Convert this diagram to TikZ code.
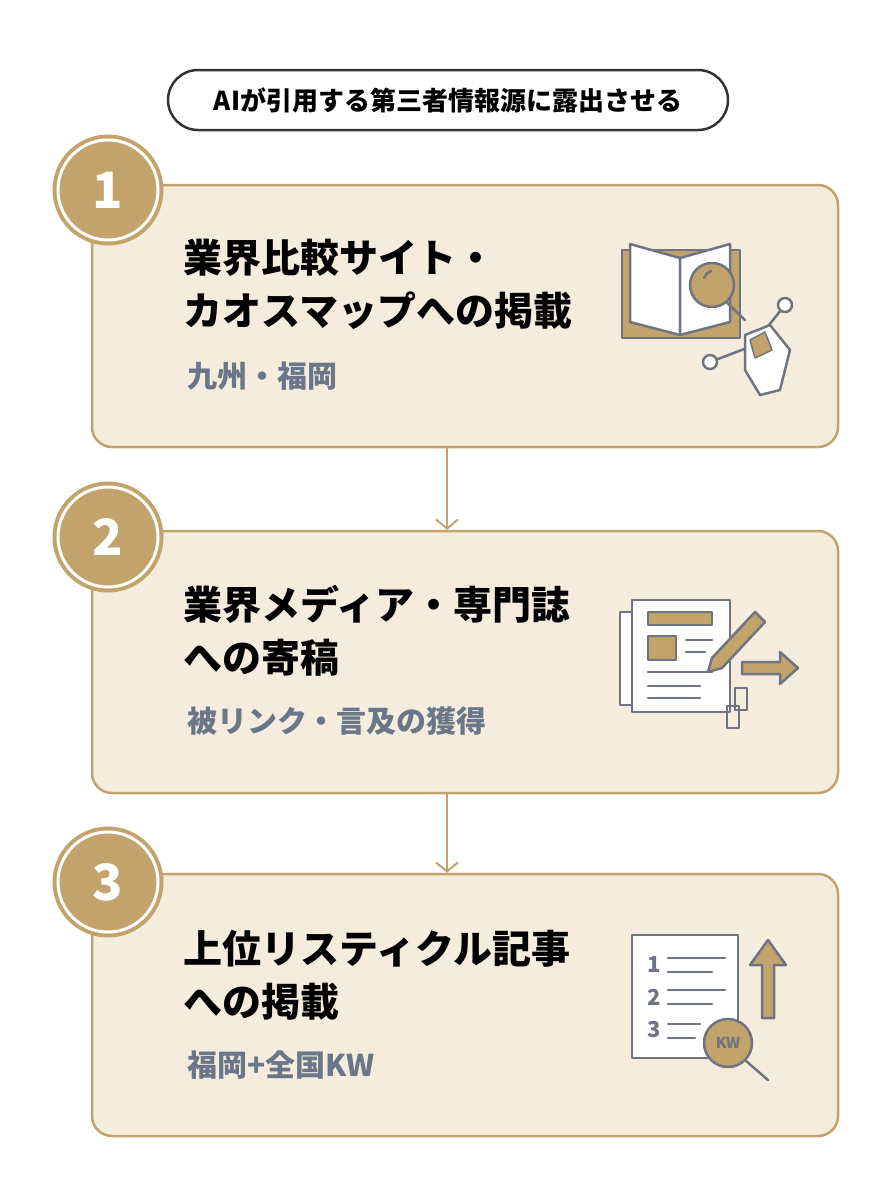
\documentclass[tikz,border=0pt]{standalone}
\usepackage{fontspec}
\setmainfont{Noto Sans CJK JP}
\usetikzlibrary{positioning,arrows.meta}
\definecolor{gold}{HTML}{C2A36C}
\definecolor{beige}{HTML}{F4EDDD}
\definecolor{ink}{HTML}{6E7480}
\definecolor{subc}{HTML}{6B7688}
\tikzset{
  stage/.style={draw=gold, line width=2.5pt, fill=beige, rounded corners=20pt, minimum width=746pt, minimum height=262pt},
  num/.style={circle, draw=gold, line width=4pt, fill=gold, minimum size=100pt, double=white, double distance=3pt, text=white, font=\fontsize{50}{50}\selectfont\bfseries},
  head/.style={anchor=north west, align=left, font=\fontsize{39}{53}\selectfont\bfseries},
  sub/.style={anchor=north west, text=subc, font=\fontsize{30}{30}\selectfont\bfseries},
  link/.style={draw=gold, line width=2pt, -{Straight Barb[length=9pt,width=22pt]}},
  icon/.style={draw=ink, line width=2.5pt, line cap=round, line join=round}
}
\begin{document}
\begin{tikzpicture}[x=1pt, y=-1pt]
  \useasboundingbox[fill=white] (0,0) rectangle (896,1200);
  % title
  \node [draw=black!80, line width=2.5pt, rounded corners=30pt, minimum width=560pt, minimum height=60pt, font=\fontsize{26}{26}\selectfont\bfseries] (title) at (448,100) {AIが引用する第三者情報源に露出させる};
  % steps
  \node [stage] (s1) at (465,316) {};
  \node [stage] (s2) at (465,662) {};
  \node [stage] (s3) at (465,1005) {};
  \node [num] (n1) at (108,190) {1};
  \node [num] (n2) at (108,537) {2};
  \node [num] (n3) at (108,882) {3};
  \node [head] (h1) at (180,236) {業界比較サイト・\\カオスマップへの掲載};
  \node [sub] (t1) at (184,358) {九州・福岡};
  \node [head] (h2) at (180,582) {業界メディア・専門誌\\への寄稿};
  \node [sub] (t2) at (184,703) {被リンク・言及の獲得};
  \node [head] (h3) at (180,927) {上位リスティクル記事\\への掲載};
  \node [sub] (t3) at (184,1047) {福岡+全国KW};
  \path [link] (s1.south -| 447,0) -- (s2.north -| 447,0);
  \path [link] (s2.south -| 447,0) -- (s3.north -| 447,0);
  % icon 1: book, magnifier, map
  \draw [icon, fill=gold] (622,250) rectangle (740,338);
  \draw [icon, fill=white] (630,244) -- (680,258) -- (680,335) -- (630,322) -- cycle;
  \draw [icon, fill=white] (730,244) -- (680,258) -- (680,335) -- (730,322) -- cycle;
  \draw [icon] (720,296) -- (745,320);
  \draw [icon, fill=gold] (712,285) circle (22);
  \draw [icon] (704,278) arc (200:250:12);
  \draw [icon] (710,362) -- (755,345) (785,305) -- (765,330);
  \draw [icon, fill=white] (710,362) circle (7) (785,305) circle (7);
  \draw [icon, fill=white] (745,335) -- (770,325) -- (790,350) -- (780,390) -- (760,395) -- (745,370) -- cycle;
  \draw [icon, fill=gold, line width=1.5pt] (750,340) -- (765,332) -- (772,350) -- (755,358) -- cycle;
  % icon 2: newspaper, pencil, arrow, chain
  \draw [icon, fill=white] (620,612) rectangle (712,705);
  \draw [icon, fill=white] (632,600) rectangle (730,712);
  \draw [icon, fill=gold] (648,612) rectangle (712,625);
  \draw [icon, fill=gold] (648,636) rectangle (676,660);
  \draw [icon] (686,640) -- (712,640) (686,652) -- (705,652) (648,672) -- (712,672) (648,686) -- (700,686) (648,698) -- (700,698);
  \draw [icon, fill=gold] (755,612) -- (765,622) -- (722,668) -- (708,672) -- (712,658) -- cycle;
  \draw [icon, fill=gold] (742,662) -- (780,662) -- (780,652) -- (798,668) -- (780,684) -- (780,674) -- (742,674) -- cycle;
  \draw [icon] (735,688) rectangle ++(12,22) (727,706) rectangle ++(12,22);
  % icon 3: list, up arrow, magnifier
  \draw [icon, fill=white] (632,935) rectangle (738,1058);
  \node [text=ink, font=\fontsize{22}{22}\selectfont\bfseries] (l1) at (654,965) {1};
  \node [text=ink, font=\fontsize{22}{22}\selectfont\bfseries] (l2) at (654,997) {2};
  \node [text=ink, font=\fontsize{22}{22}\selectfont\bfseries] (l3) at (654,1030) {3};
  \draw [icon] (668,958) -- (725,958) (668,972) -- (712,972) (668,990) -- (725,990) (668,1004) -- (712,1004) (668,1024) -- (700,1024) (668,1038) -- (695,1038);
  \draw [icon, fill=gold] (762,1018) -- (762,965) -- (750,965) -- (768,940) -- (786,965) -- (774,965) -- (774,1018) -- cycle;
  \draw [icon] (745,1060) -- (768,1080);
  \node [circle, icon, fill=gold, minimum size=48pt, inner sep=0pt, text=ink, font=\fontsize{15}{15}\selectfont\bfseries] (kw) at (728,1043) {KW};
\end{tikzpicture}
\end{document}
